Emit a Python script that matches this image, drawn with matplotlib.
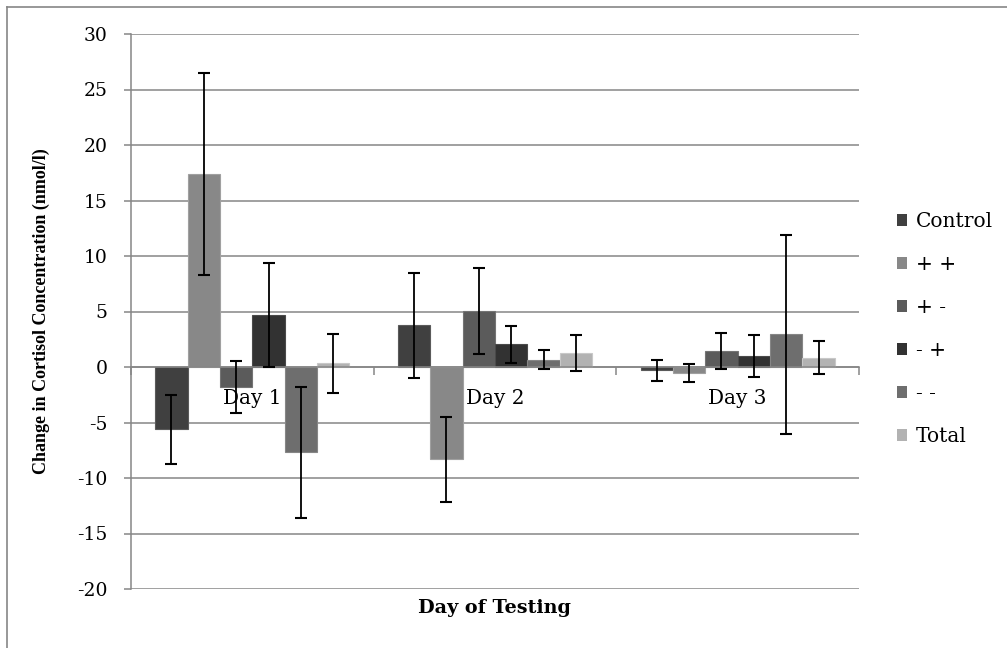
import matplotlib
matplotlib.use('Agg')
import matplotlib.pyplot as plt
import matplotlib.patches as mpatches
import matplotlib.lines as mlines
import numpy as np

plt.rcParams['font.family'] = ['DejaVu Serif']
plt.rcParams['axes.unicode_minus'] = False

# data
days = ['Day 1', 'Day 2', 'Day 3']
groups = ['Control', '+ +', '+ -', '- +', '- -', 'Total']
control = [-5.6, 3.76, -0.31]
pp = [17.4, -8.32, -0.54]
pm = [-1.8, 5.05, 1.44]
mp = [4.66, 2.04, 0.99]
mm = [-7.69, 0.67, 2.95]
total = [0.32, 1.26, 0.85]
control_err = [3.1, 4.73, 0.98]
pp_err = [9.1, 3.83, 0.84]
pm_err = [2.38, 3.84, 1.65]
mp_err = [4.68, 1.64, 1.91]
mm_err = [5.9, 0.87, 8.95]
total_err = [2.65, 1.64, 1.51]

values = [control, pp, pm, mp, mm, total]
errors = [control_err, pp_err, pm_err, mp_err, mm_err, total_err]
colors = ['#404040', '#888888', '#5b5b5b', '#323232', '#6e6e6e', '#b2b2b2']
edges = ['#5a5a5a', '#a0a0a0', '#747474', '#4a4a4a', '#868686', '#c8c8c8']

fig = plt.figure(figsize=(10.07, 6.48), dpi=100)
ax = fig.add_axes([131 / 1007, 59 / 648, 728 / 1007, 555 / 648])

x = np.arange(len(days))
w = 1 / 7.5
for j in range(len(groups)):
    ax.bar(x + (j - 2.5) * w, values[j], w, color=colors[j], edgecolor=edges[j],
           linewidth=0.8, zorder=3, label=groups[j])
    ax.errorbar(x + (j - 2.5) * w, values[j], yerr=errors[j], fmt='none',
                ecolor='black', elinewidth=1.3, capsize=4.3, capthick=1.5, zorder=4)

ax.set_xlim(-0.5, 2.5)
ax.set_ylim(-20, 30)
ax.set_yticks(np.arange(-20, 31, 5))
ax.yaxis.grid(True, color='#868686', linewidth=1.1, zorder=0)
ax.set_axisbelow(True)

for s in ['top', 'right']:
    ax.spines[s].set_visible(False)
ax.spines['left'].set_color('#868686')
ax.spines['left'].set_linewidth(1.1)
ax.spines['bottom'].set_position(('data', 0))
ax.spines['bottom'].set_color('#868686')
ax.spines['bottom'].set_linewidth(1.1)
ax.spines['bottom'].set_zorder(3.5)

ax.tick_params(axis='y', length=5, color='#868686', width=1.1, labelsize=13.5, pad=12)
ax.set_xticks([-0.5, 0.5, 1.5, 2.5])
ax.set_xticklabels([])
ax.tick_params(axis='x', which='major', length=6, color='#868686', width=1.1, direction='out')
ax.set_xticks(x, minor=True)
ax.set_xticklabels(days, minor=True)
ax.tick_params(axis='x', which='minor', length=0, labelsize=14.4, pad=16)

ax.set_ylabel('Change in Cortisol Concentration (nmol/l)', fontsize=13,
              fontweight='bold', family='Liberation Serif', labelpad=19)
fig.text(495 / 1007, 1 - 608 / 648, 'Day of Testing', fontsize=13.8,
         fontweight='bold', ha='center', va='center')

handles = [mpatches.Rectangle((0, 0), 1, 1, facecolor=c) for c in colors]
fig.legend(handles, groups, loc='center left', bbox_to_anchor=(887 / 1007, 1 - 329 / 648),
           frameon=False, fontsize=14.5, borderpad=0, handlelength=0.5,
           handleheight=0.5, handletextpad=0.45, labelspacing=1.19)

# outer frame: top and left edges visible, the rest runs off the image
fig.add_artist(mlines.Line2D([7 / 1007, 1.01], [1 - 7 / 648] * 2, transform=fig.transFigure,
                             color='#868686', linewidth=1.2))
fig.add_artist(mlines.Line2D([7 / 1007] * 2, [-0.01, 1 - 7 / 648], transform=fig.transFigure,
                             color='#868686', linewidth=1.2))

fig.savefig('out.png', dpi=100)
